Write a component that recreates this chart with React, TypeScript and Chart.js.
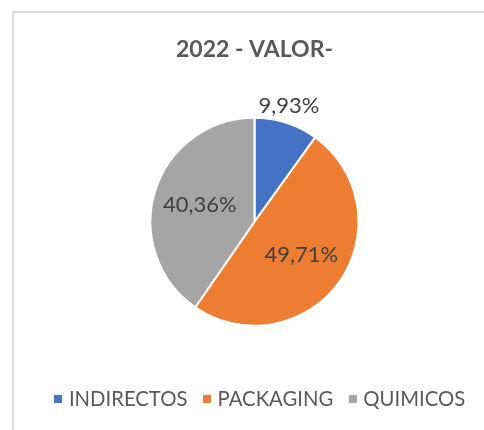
import React, { useEffect, useRef } from "react";
import { Chart, registerables } from "chart.js";

Chart.register(...registerables);

const TITLE = "2022 - VALOR-";
const categories = ["INDIRECTOS", "PACKAGING", "QUIMICOS"];
const values = [9.93, 49.71, 40.36];
const colors = ["#4472C4", "#ED7D31", "#A5A5A5"];
const labelOutside = [true, false, false];

const FONT = "Lato, Carlito, Calibri, sans-serif";
const TITLE_SIZE = 23;
const LABEL_SIZE = 22;
const LEGEND_SIZE = 20.3;
const LEGEND_PAD = 19;

function makeSwatch(color: string): HTMLCanvasElement {
  const c = document.createElement("canvas");
  c.width = 8;
  c.height = 8;
  const g = c.getContext("2d")!;
  g.fillStyle = color;
  g.fillRect(0, 0, 8, 8);
  return c;
}

const labelPlugin = {
  id: "pieLabels",
  afterDatasetsDraw(chart: any) {
    const ctx = chart.ctx;
    const meta = chart.getDatasetMeta(0);
    ctx.save();
    ctx.font = `${LABEL_SIZE}px ${FONT}`;
    ctx.fillStyle = "#404040";
    ctx.textAlign = "center";
    ctx.textBaseline = "middle";
    meta.data.forEach((arc: any, i: number) => {
      const p = arc.getProps(["x", "y", "startAngle", "endAngle", "outerRadius"], true);
      const mid = (p.startAngle + p.endAngle) / 2;
      const r = labelOutside[i] ? p.outerRadius + 18 : p.outerRadius * 0.55;
      const text = values[i].toFixed(2).replace(".", ",") + "%";
      ctx.fillText(text, p.x + Math.cos(mid) * r - (labelOutside[i] ? 3 : 0), p.y + Math.sin(mid) * r);
    });
    ctx.restore();
  },
};

const legendShiftPlugin = {
  id: "legendShift",
  afterLayout(chart: any) {
    const lg = chart.legend;
    if (lg) {
      lg.left += 7;
      lg.right += 7;
    }
  },
};

export default function App() {
  const ref = useRef<HTMLCanvasElement>(null);

  useEffect(() => {
    if (!ref.current) return;
    const swatches = colors.map(makeSwatch);
    const chart = new Chart(ref.current, {
      type: "pie",
      data: {
        labels: categories,
        datasets: [
          {
            data: values,
            backgroundColor: colors,
            borderColor: "#ffffff",
            borderWidth: 2,
            radius: 104,
          } as any,
        ],
      },
      options: {
        responsive: false,
        animation: false,
        devicePixelRatio: 1,
        layout: { padding: { left: 25, right: 0, top: 0, bottom: 10.85 } },
        plugins: {
          tooltip: { enabled: false },
          title: {
            display: true,
            text: TITLE,
            color: "#595959",
            font: { family: FONT, size: TITLE_SIZE, weight: "bold", lineHeight: 1.2 },
            padding: { top: 35.7, bottom: 10.35 },
          },
          legend: {
            display: true,
            position: "bottom",
            labels: {
              color: "#595959",
              font: { family: FONT, size: LEGEND_SIZE },
              padding: LEGEND_PAD,
              usePointStyle: true,
              pointStyleWidth: 1,
              generateLabels(chart: any) {
                const base = (Chart as any).overrides.pie.plugins.legend.labels.generateLabels(chart);
                return base.map((item: any, i: number) => ({
                  ...item,
                  pointStyle: swatches[i],
                  lineWidth: 0,
                }));
              },
            },
          },
        },
      },
      plugins: [labelPlugin, legendShiftPlugin],
    });
    return () => chart.destroy();
  }, []);

  return (
    <div style={{ position: "absolute", left: 0, top: 0, width: 484, height: 430, background: "#ffffff", overflow: "hidden" }}>
      <div
        style={{
          position: "absolute",
          left: 12,
          top: 11,
          width: 600,
          height: 600,
          borderTop: "2px solid #d9d9d9",
          borderLeft: "2px solid #d9d9d9",
        }}
      />
      <canvas ref={ref} width={484} height={430} style={{ position: "absolute", left: 0, top: 0, display: "block" }} />
    </div>
  );
}
